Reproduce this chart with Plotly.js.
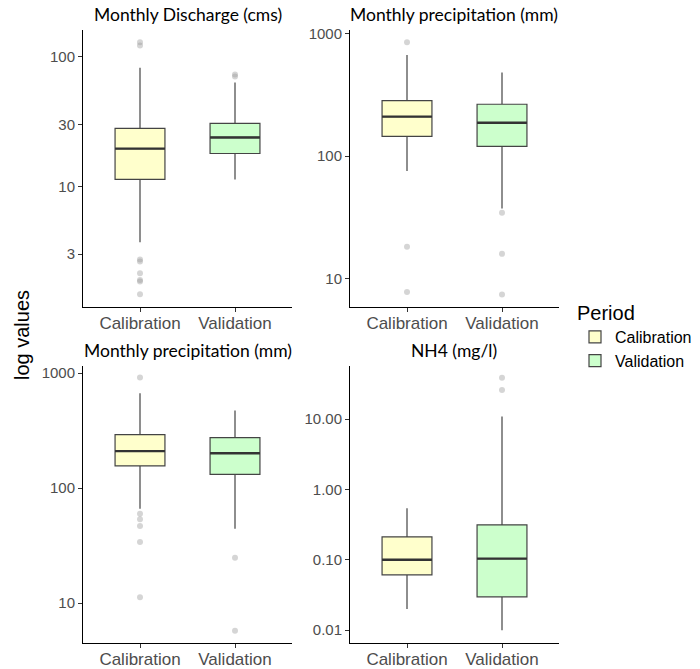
<!DOCTYPE html>
<html>
<head>
<meta charset="utf-8">
<script src="https://cdn.plot.ly/plotly-3.0.1.min.js"></script>
<style>html,body{margin:0;padding:0;background:#fff;}#chart{width:700px;height:669px;}</style>
</head>
<body>
<div id="chart"></div>
<script>
// Categories
const periods = ['Calibration', 'Validation'];
const panelTitles = ['Monthly Discharge (cms)', 'Monthly precipitation (mm)', 'Monthly precipitation (mm)', 'NH4 (mg/l)'];

// Box statistics: [lower whisker, Q1, median, Q3, upper whisker]
const dischargeCal = [3.7, 11.3, 19.5, 28, 82];
const dischargeVal = [11.3, 17.9, 23.8, 30.5, 63];
const dischargeCalOut = [129, 122, 2.73, 2.63, 2.13, 1.89, 1.84, 1.47];
const dischargeValOut = [72.7, 70.2];

const precipACal = [75.5, 145, 210, 284, 671];
const precipAVal = [37.3, 120, 187, 265, 482];
const precipACalOut = [850, 18.2, 7.76];
const precipAValOut = [34.4, 15.9, 7.4];

const precipBCal = [66, 156, 210, 292, 670];
const precipBVal = [44.3, 132, 201, 275, 473];
const precipBCalOut = [916, 59.7, 53.7, 46.8, 33.9, 11.2];
const precipBValOut = [24.8, 5.74];

const nh4Cal = [0.02, 0.0612, 0.10, 0.212, 0.54];
const nh4Val = [0.01, 0.0298, 0.104, 0.314, 10.9];
const nh4CalOut = [];
const nh4ValOut = [38.9, 26];

// Tick labels
const dischargeTicks = [3, 10, 30, 100];
const dischargeTickText = ['3', '10', '30', '100'];
const precipTicks = [10, 100, 1000];
const precipTickText = ['10', '100', '1000'];
const nh4Ticks = [0.01, 0.1, 1, 10];
const nh4TickText = ['0.01', '0.10', '1.00', '10.00'];

const fills = ['#FFFFCC', '#CCFFCC'];

const panels = [
  {cal: dischargeCal, val: dischargeVal, calOut: dischargeCalOut, valOut: dischargeValOut, ticks: dischargeTicks, tickText: dischargeTickText, range: [0.069, 2.205]},
  {cal: precipACal, val: precipAVal, calOut: precipACalOut, valOut: precipAValOut, ticks: precipTicks, tickText: precipTickText, range: [0.767, 3.03]},
  {cal: precipBCal, val: precipBVal, calOut: precipBCalOut, valOut: precipBValOut, ticks: precipTicks, tickText: precipTickText, range: [0.652, 3.063]},
  {cal: nh4Cal, val: nh4Val, calOut: nh4CalOut, valOut: nh4ValOut, ticks: nh4Ticks, tickText: nh4TickText, range: [-2.183, 1.756]}
];

const W = 700, H = 669;
const xDomPx = [[83, 292], [350, 559], [83, 292], [350, 559]];
const yDomPx = [[30, 307], [30, 307], [366, 643], [366, 643]];
const sans = 'Liberation Sans, Arial, sans-serif';

const traces = [];
const layout = {
  width: W, height: H,
  margin: {l: 0, r: 0, t: 0, b: 0},
  paper_bgcolor: '#fff', plot_bgcolor: '#fff',
  boxmode: 'overlay', boxgap: 0.25,
  showlegend: true,
  legend: {
    x: 575 / W, y: 1 - 294 / H, xanchor: 'left', yanchor: 'top',
    title: {text: 'Period', font: {family: sans, size: 20, color: '#000'}},
    font: {family: sans, size: 16, color: '#000'},
    tracegroupgap: 0, itemwidth: 30, bgcolor: 'rgba(0,0,0,0)'
  },
  annotations: [],
  font: {family: sans}
};

panels.forEach((p, i) => {
  const n = i + 1;
  const xa = 'x' + (n === 1 ? '' : n), ya = 'y' + (n === 1 ? '' : n);
  [p.cal, p.val].forEach((s, k) => {
    traces.push({
      type: 'box', name: periods[k], x: [periods[k]],
      lowerfence: [s[0]], q1: [s[1]], median: [s[2]], q3: [s[3]], upperfence: [s[4]],
      fillcolor: fills[k], line: {color: '#444444', width: 1.2}, whiskerwidth: 0,
      boxpoints: false, hoverinfo: 'skip',
      xaxis: xa, yaxis: ya, legendgroup: periods[k], showlegend: i === 0
    });
  });
  // thicker median lines (zero-height boxes at the median)
  [p.cal, p.val].forEach((s, k) => {
    traces.push({
      type: 'box', name: periods[k] + ' median', x: [periods[k]],
      lowerfence: [s[2]], q1: [s[2]], median: [s[2]], q3: [s[2]], upperfence: [s[2]],
      fillcolor: 'rgba(0,0,0,0)', line: {color: '#333333', width: 2.4}, whiskerwidth: 0,
      boxpoints: false, hoverinfo: 'skip',
      xaxis: xa, yaxis: ya, showlegend: false
    });
  });
  [p.calOut, p.valOut].forEach((o, k) => {
    traces.push({
      type: 'scatter', mode: 'markers', x: o.map(() => periods[k]), y: o,
      marker: {color: 'rgba(150,150,150,0.4)', size: 6},
      xaxis: xa, yaxis: ya, showlegend: false, hoverinfo: 'skip'
    });
  });
  const xd = xDomPx[i], yd = yDomPx[i];
  layout['xaxis' + (n === 1 ? '' : n)] = {
    domain: [xd[0] / W, xd[1] / W], anchor: ya, type: 'category',
    categoryorder: 'array', categoryarray: periods, range: [-0.6, 1.6],
    showline: true, linecolor: '#000', linewidth: 1, ticks: 'outside', ticklen: 4, tickcolor: '#333',
    ticklabelstandoff: -3,
    showgrid: false, zeroline: false, fixedrange: true,
    tickfont: {family: sans, size: 17, color: '#4d4d4d'}
  };
  layout['yaxis' + (n === 1 ? '' : n)] = {
    domain: [1 - yd[1] / H, 1 - yd[0] / H], anchor: xa, type: 'log', range: p.range,
    tickvals: p.ticks, ticktext: p.tickText,
    showline: true, linecolor: '#000', linewidth: 1, ticks: 'outside', ticklen: 4, tickcolor: '#333',
    showgrid: false, zeroline: false, fixedrange: true,
    tickfont: {family: sans, size: 15, color: '#4d4d4d'}
  };
  layout.annotations.push({
    text: panelTitles[i], xref: 'paper', yref: 'paper',
    x: (xd[0] + xd[1]) / 2 / W, y: 1 - (yd[0] - 3) / H, xanchor: 'center', yanchor: 'bottom',
    showarrow: false, font: {family: 'Lato, Open Sans, sans-serif', size: 17.5, color: '#000'}
  });
});

layout.annotations.push({
  text: 'log values', xref: 'paper', yref: 'paper', x: 22 / W, y: 1 - 335 / H,
  xanchor: 'center', yanchor: 'middle', textangle: -90, showarrow: false,
  font: {family: sans, size: 20, color: '#000'}
});

Plotly.newPlot('chart', traces, layout, {displayModeBar: false, staticPlot: true});
</script>
</body>
</html>
